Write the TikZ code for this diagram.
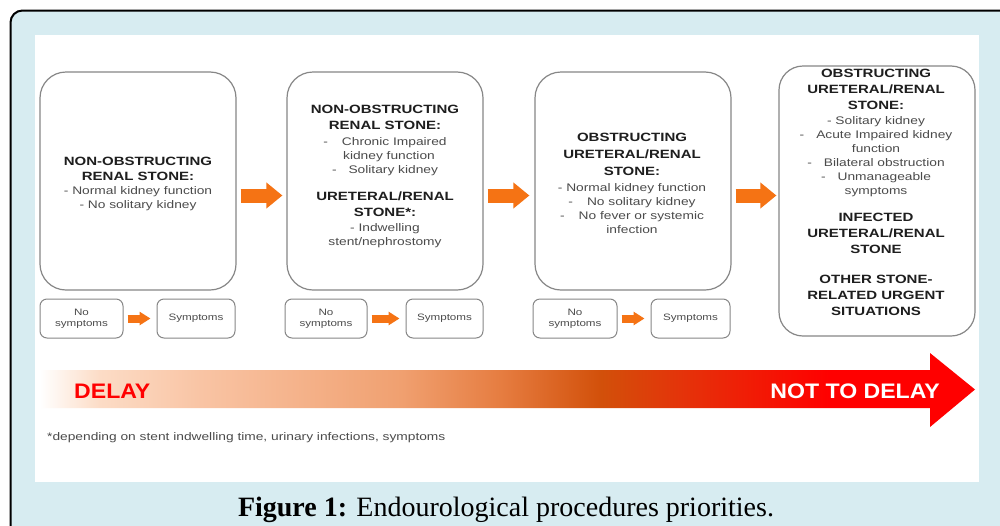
\documentclass[tikz,border=0pt]{standalone}
\usepackage{fontspec}
\setmainfont[FakeStretch=1.25]{Liberation Sans}
\newfontfamily\capfont{Liberation Serif}
\newfontfamily\bigfont[FakeStretch=1.1]{Liberation Sans}
\usetikzlibrary{arrows.meta}
\definecolor{framebg}{RGB}{215,236,241}
\definecolor{boxgray}{RGB}{135,135,135}
\definecolor{arrorange}{RGB}{245,115,20}
\definecolor{headtxt}{RGB}{30,30,30}
\definecolor{bodytxt}{RGB}{75,75,75}
\definecolor{pa}{RGB}{252,220,198}
\definecolor{pb}{RGB}{249,196,164}
\definecolor{pc}{RGB}{240,160,112}
\definecolor{pd}{RGB}{230,125,65}
\definecolor{pe}{RGB}{210,80,10}
\definecolor{pf}{RGB}{228,52,10}
\definecolor{pure}{RGB}{255,0,0}
\pgfdeclarehorizontalshading{urgency}{100bp}{color(0bp)=(white); color(25bp)=(white); color(28.2bp)=(pa); color(33.6bp)=(pb); color(44.3bp)=(pc); color(49.6bp)=(pd); color(55bp)=(pe); color(59.2bp)=(pf); color(67.2bp)=(pure); color(75bp)=(pure); color(100bp)=(pure)}
\newcommand\hd[1]{{\fontsize{12}{14}\selectfont\bfseries\color{headtxt}#1}}
\tikzset{
  bigbox/.style={draw=boxgray, line width=1.2pt, rounded corners=26pt, fill=white, inner sep=0pt, minimum width=196pt},
  smallbox/.style={draw=boxgray, line width=1pt, rounded corners=7pt, fill=white, inner sep=0pt, minimum height=39pt, align=center, font=\fontsize{9.3}{11}\selectfont, text=bodytxt},
  boxtxt/.style={align=center, inner sep=0pt, anchor=north, font=\fontsize{11}{14}\selectfont, text=bodytxt},
  bigarr/.style={draw=arrorange, line width=14pt, -{Triangle[width=25pt,length=16pt]}},
  smallarr/.style={draw=arrorange, line width=8pt, -{Triangle[width=13pt,length=11pt]}},
}
\begin{document}
\begin{tikzpicture}[x=1pt,y=-1pt]
\useasboundingbox (0,0) rectangle (1000,525);
\clip (0,0) rectangle (1000,525);
\draw[line width=2pt, fill=framebg, rounded corners=12pt] (10.5,10.5) rectangle (1020,545);
\fill[white] (35,35) rectangle (979,482);

% big boxes
\node[bigbox, minimum height=218pt] (b1) at (138,181) {};
\node[bigbox, minimum height=218pt] (b2) at (385,181) {};
\node[bigbox, minimum height=218pt] (b3) at (633,181) {};
\node[bigbox, minimum height=270pt, rounded corners=24pt] (b4) at (877,201) {};

\node[boxtxt] (t1) at (138,157) {\hd{NON-OBSTRUCTING}\\[0.5pt] \hd{RENAL STONE:}\\[0.5pt] - Normal kidney function\\ - No solitary kidney};
\node[boxtxt] (t2) at (385,105) {\hd{NON-OBSTRUCTING}\\[2pt] \hd{RENAL STONE:}\\[2pt] -\hspace{14pt}Chronic Impaired\\ \hspace{8pt}kidney function\\ -\hspace{12pt}Solitary kidney\\[13pt] \hd{URETERAL/RENAL}\\[2pt] \hd{STONE*:}\\[1pt] - Indwelling\\ stent/nephrostomy};
\node[boxtxt] (t3) at (632,133) {\hd{OBSTRUCTING}\\[3pt] \hd{URETERAL/RENAL}\\[3pt] \hd{STONE:}\\[2pt] - Normal kidney function\\ -\hspace{14pt}No solitary kidney\\ -\hspace{14pt}No fever or systemic\\ infection};
\node[boxtxt] (t4) at (876,69) {\hd{OBSTRUCTING}\\[2pt] \hd{URETERAL/RENAL}\\[2pt] \hd{STONE:}\\[1pt] - Solitary kidney\\ -\hspace{12pt}Acute Impaired kidney\\ function\\ -\hspace{12pt}Bilateral obstruction\\ -\hspace{12pt}Unmanageable\\ symptoms\\[13pt] \hd{INFECTED}\\[2pt] \hd{URETERAL/RENAL}\\[2pt] \hd{STONE}\\[16pt] \hd{OTHER STONE-}\\[2pt] \hd{RELATED URGENT}\\[2pt] \hd{SITUATIONS}};

% arrows between big boxes
\coordinate (a1s) at ([xshift=4pt,yshift=-14.5pt]b1.east);
\coordinate (a2s) at ([xshift=4pt,yshift=-14.5pt]b2.east);
\coordinate (a3s) at ([xshift=4pt,yshift=-14.5pt]b3.east);
\draw[bigarr, shorten >=4pt] (a1s) -- (a1s -| b2.west);
\draw[bigarr, shorten >=5pt] (a2s) -- (a2s -| b3.west);
\draw[bigarr, shorten >=2pt] (a3s) -- (a3s -| b4.west);

% small boxes
\node[smallbox, minimum width=83pt] (ns1) at (81.5,318.5) {No\\symptoms};
\node[smallbox, minimum width=78pt] (sy1) at (196,318.5) {Symptoms};
\node[smallbox, minimum width=82pt] (ns2) at (326,318.5) {No\\symptoms};
\node[smallbox, minimum width=77pt] (sy2) at (444.5,318.5) {Symptoms};
\node[smallbox, minimum width=84pt] (ns3) at (575,318.5) {No\\symptoms};
\node[smallbox, minimum width=79pt] (sy3) at (690.5,318.5) {Symptoms};
\draw[smallarr] ([xshift=4pt]ns1.east) -- ([xshift=-6pt]sy1.west);
\draw[smallarr] ([xshift=4pt]ns2.east) -- ([xshift=-6pt]sy2.west);
\draw[smallarr] ([xshift=4pt]ns3.east) -- ([xshift=-6pt]sy3.west);

% urgency arrow
\shade[shading=urgency] (40,370) -- (930,370) -- (930,353) -- (975,389.5) -- (930,427) -- (930,408) -- (40,408) -- cycle;
\node[font=\bigfont\fontsize{21}{24}\selectfont\bfseries, text=pure, anchor=base west, inner sep=0pt] (delay) at (74,398) {DELAY};
\node[font=\bigfont\fontsize{21}{24}\selectfont\bfseries, text=white, anchor=base east, inner sep=0pt] (notdelay) at (940,398) {NOT TO DELAY};

% footnote
\node[font=\fontsize{11}{13}\selectfont, text=bodytxt, anchor=base west, inner sep=0pt] (fn) at (47,440) {*depending on stent indwelling time, urinary infections, symptoms};

% caption
\node[font=\capfont\fontsize{28}{30}\selectfont, anchor=base, inner sep=0pt] (cap) at (506,516) {\textbf{Figure 1:} Endourological procedures priorities.};
\end{tikzpicture}
\end{document}
